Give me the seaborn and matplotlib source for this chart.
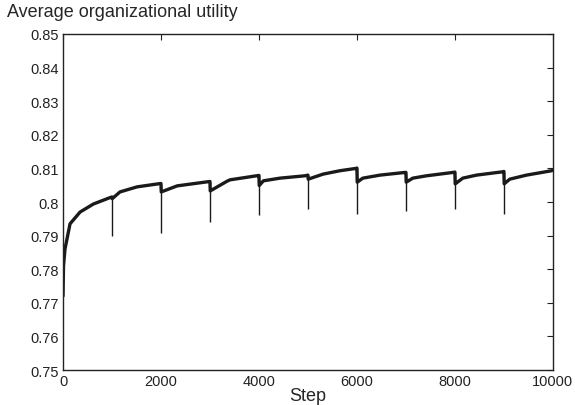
import pandas as pd
import matplotlib
matplotlib.use('Agg')
import matplotlib.pyplot as plt
import seaborn as sns
from matplotlib.ticker import FuncFormatter

# Values (step, average utility)
steps = [0, 10, 40, 143, 347, 620, 940, 999,
         1005, 1163, 1510, 1940, 1999,
         2005, 2330, 2940, 2999,
         3005, 3350, 3410, 3950, 3999,
         4005, 4090, 4430, 4940, 4999,
         5005, 5310, 5650, 5980, 5999,
         6005, 6120, 6470, 6980, 6999,
         7005, 7140, 7420, 7960, 7999,
         8005, 8160, 8440, 8980, 8999,
         9005, 9120, 9460, 9970, 10000]
utility = [0.772, 0.781, 0.786, 0.7935, 0.797, 0.7994, 0.8012, 0.8015,
           0.8010, 0.8030, 0.8045, 0.8054, 0.8055,
           0.8030, 0.8048, 0.8060, 0.8061,
           0.8033, 0.8062, 0.8066, 0.8078, 0.8079,
           0.8049, 0.8063, 0.8071, 0.8078, 0.8080,
           0.8068, 0.8083, 0.8093, 0.8100, 0.8101,
           0.8059, 0.8071, 0.8080, 0.8088, 0.8088,
           0.8059, 0.8071, 0.8078, 0.8088, 0.8089,
           0.8054, 0.8071, 0.8080, 0.8090, 0.8091,
           0.8054, 0.8068, 0.8080, 0.8093, 0.8095]

# the short drops right at each 1000-step restart
dip_steps = [1000, 2000, 3000, 4000, 5000, 6000, 7000, 8000, 9000]
dip_top = [0.8015, 0.8055, 0.8061, 0.8079, 0.8080, 0.8101, 0.8088, 0.8089, 0.8091]
dip_low = [0.7900, 0.7908, 0.7940, 0.7961, 0.7979, 0.7964, 0.7974, 0.7979, 0.7964]

x_ticks = [0, 2000, 4000, 6000, 8000, 10000]
y_ticks = [0.75, 0.76, 0.77, 0.78, 0.79, 0.80, 0.81, 0.82, 0.83, 0.84, 0.85]

df = pd.DataFrame({'Step': steps, 'Utility': utility})

sns.set_style('white')
plt.rcParams['font.family'] = ['Liberation Sans', 'DejaVu Sans']

fig = plt.figure(figsize=(5.75, 4.06), dpi=100)
ax = fig.add_axes([0.1096, 0.0862, 0.852, 0.8276])

line_color = '#1a1a1a'
ax.vlines(dip_steps, dip_low, dip_top, color=line_color, linewidth=1.0)
sns.lineplot(data=df, x='Step', y='Utility', ax=ax, color=line_color,
             linewidth=2.4, estimator=None, sort=False)

ax.set_xlim(0, 10000)
ax.set_ylim(0.75, 0.85)
ax.set_xticks(x_ticks)
ax.set_yticks(y_ticks)
ax.yaxis.set_major_formatter(FuncFormatter(lambda v, p: f'{v:g}'))
ax.tick_params(direction='in', length=4, width=0.8, top=True, right=True,
               labelsize=10.5, colors='#222222', pad=3)
for s in ax.spines.values():
    s.set_color('#222222')
    s.set_linewidth(1.0)

ax.set_xlabel('Step', fontsize=13, labelpad=-1)
ax.set_ylabel('')
fig.text(0.012, 0.97, 'Average organizational utility', fontsize=13,
         va='center', ha='left')

fig.savefig('out.png', dpi=100)
